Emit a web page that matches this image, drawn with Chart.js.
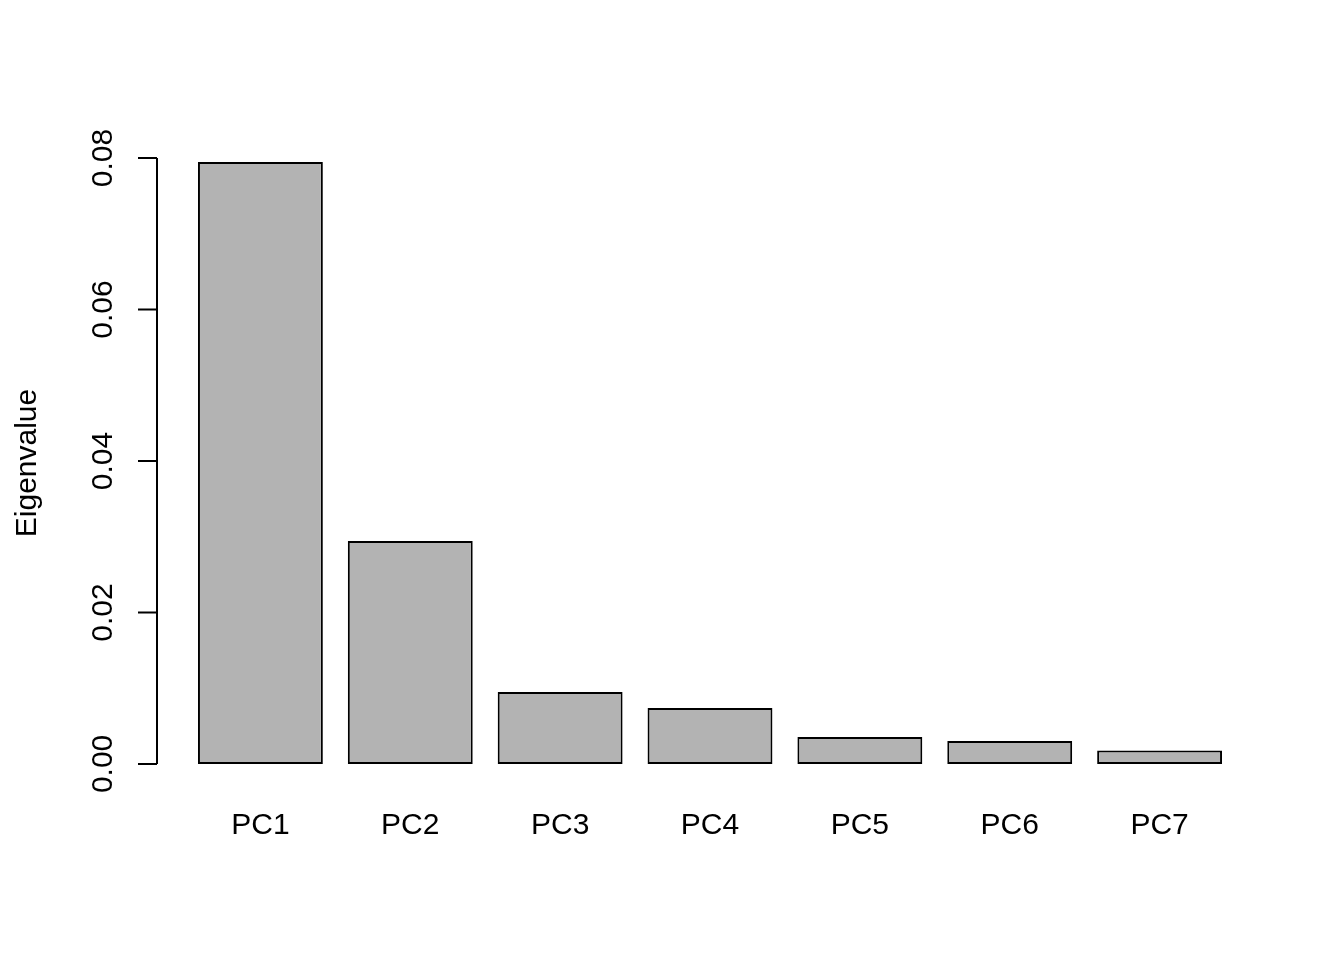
<!DOCTYPE html>
<html>
<head>
<meta charset="utf-8">
<title>Eigenvalue barplot</title>
<script src="https://cdn.jsdelivr.net/npm/chart.js@4/dist/chart.umd.min.js"></script>
<style>
  html, body { margin: 0; padding: 0; background: #ffffff; }
  #wrap { width: 1344px; height: 960px; }
</style>
</head>
<body>
<div id="wrap"><canvas id="chart" width="1344" height="960"></canvas></div>
<script>
/* Data */
const components = ['PC1', 'PC2', 'PC3', 'PC4', 'PC5', 'PC6', 'PC7'];
const eigenvalues = [0.07947, 0.02944, 0.00950, 0.00740, 0.00356, 0.00304, 0.00178];
const yTicks = [0, 0.02, 0.04, 0.06, 0.08];
const yTickLabels = ['0.00', '0.02', '0.04', '0.06', '0.08'];
const yTitle = 'Eigenvalue';

/* R barplot layout: width 1, space 0.2, 4% axis extension */
const barWidth = 1;
const barSpace = 0.2;
const centers = components.map((c, i) => barSpace + barWidth / 2 + i * (barWidth + barSpace));
const xLo = barSpace;
const xHi = components.length * (barWidth + barSpace);
const xPad = (xHi - xLo) * 0.04;
const yHi = Math.max(...eigenvalues);
const yPad = yHi * 0.04;

const FONT = '30px "Liberation Sans", Arial, Helvetica, sans-serif';

/* Draws base-R style axes from the chart's own scales */
const rAxes = {
    id: 'rAxes',
    afterDraw(chart) {
        const ctx = chart.ctx;
        const area = chart.chartArea;
        const xs = chart.scales.x;
        const ys = chart.scales.y;

        ctx.save();
        ctx.strokeStyle = '#000000';
        ctx.fillStyle = '#000000';
        ctx.lineWidth = 2;
        ctx.font = FONT;

        // y axis line and ticks
        const axisX = area.left;
        ctx.beginPath();
        ctx.moveTo(axisX, ys.getPixelForValue(yTicks[0]));
        ctx.lineTo(axisX, ys.getPixelForValue(yTicks[yTicks.length - 1]));
        yTicks.forEach(t => {
            const py = ys.getPixelForValue(t);
            ctx.moveTo(axisX, py);
            ctx.lineTo(axisX - 19, py);
        });
        ctx.stroke();

        // y tick labels, rotated
        ctx.textAlign = 'center';
        ctx.textBaseline = 'alphabetic';
        yTicks.forEach((t, i) => {
            const py = ys.getPixelForValue(t);
            ctx.save();
            ctx.translate(axisX - 45, py);
            ctx.rotate(-Math.PI / 2);
            ctx.fillText(yTickLabels[i], 0, 0);
            ctx.restore();
        });

        // y axis title
        ctx.save();
        ctx.translate(36, (area.top + area.bottom) / 2);
        ctx.rotate(-Math.PI / 2);
        ctx.fillText(yTitle, 0, 0);
        ctx.restore();

        // category labels under bars
        components.forEach((c, i) => {
            ctx.fillText(c, xs.getPixelForValue(centers[i]), area.bottom + 46);
        });

        ctx.restore();
    }
};

new Chart(document.getElementById('chart'), {
    type: 'bar',
    data: {
        datasets: [{
            data: components.map((c, i) => ({ x: centers[i], y: eigenvalues[i] })),
            backgroundColor: '#b3b3b3',
            borderColor: '#000000',
            borderWidth: 2,
            borderSkipped: false,
            categoryPercentage: 1,
            barPercentage: barWidth / (barWidth + barSpace)
        }]
    },
    options: {
        responsive: false,
        animation: false,
        devicePixelRatio: 1,
        layout: { padding: { left: 157, right: 81, top: 138, bottom: 172 } },
        plugins: {
            legend: { display: false },
            tooltip: { enabled: false },
            title: { display: false }
        },
        scales: {
            x: {
                type: 'linear',
                display: false,
                offset: false,
                min: xLo - xPad,
                max: xHi + xPad,
                afterBuildTicks: scale => {
                    scale.ticks = centers.map(v => ({ value: v }));
                }
            },
            y: {
                type: 'linear',
                display: false,
                min: -yPad,
                max: yHi + yPad
            }
        }
    },
    plugins: [rAxes]
});
</script>
</body>
</html>
